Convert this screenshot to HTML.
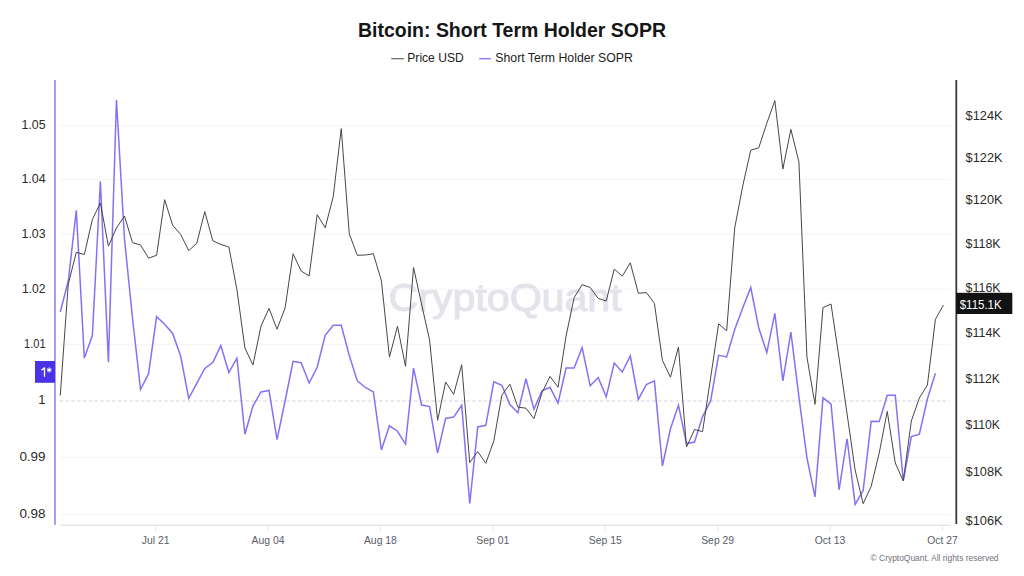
<!DOCTYPE html>
<html><head><meta charset="utf-8"><style>
html,body{margin:0;padding:0;background:#fff;}
svg{display:block;font-family:"Liberation Sans",sans-serif;}
.ax{font-size:13px;fill:#2a2a2a;}
.xl{font-size:10.4px;fill:#5c5c66;}
</style></head><body>
<svg width="1024" height="576" viewBox="0 0 1024 576">
<rect width="1024" height="576" fill="#fff"/>
<text x="512" y="36.6" text-anchor="middle" font-size="20" font-weight="700" fill="#151515" textLength="308" lengthAdjust="spacingAndGlyphs">Bitcoin: Short Term Holder SOPR</text>
<line x1="391.2" y1="58.7" x2="404" y2="58.7" stroke="#666" stroke-width="1.2"/>
<text x="407.3" y="62" font-size="13" fill="#222" textLength="56.4" lengthAdjust="spacingAndGlyphs">Price USD</text>
<line x1="479.2" y1="58.7" x2="491" y2="58.7" stroke="#8f80f8" stroke-width="1.5"/>
<text x="495.3" y="62" font-size="13" fill="#222" textLength="137.5" lengthAdjust="spacingAndGlyphs">Short Term Holder SOPR</text>
<text x="388.6" y="310.5" font-size="39" font-weight="400" fill="#e3e3ea" stroke="#e3e3ea" stroke-width="0.9" textLength="233" lengthAdjust="spacingAndGlyphs">CryptoQuant</text>
<line x1="60" y1="125.69" x2="951" y2="125.69" stroke="#f4f4f5" stroke-width="1"/>
<line x1="60" y1="179.65" x2="951" y2="179.65" stroke="#f4f4f5" stroke-width="1"/>
<line x1="60" y1="234.13" x2="951" y2="234.13" stroke="#f4f4f5" stroke-width="1"/>
<line x1="60" y1="289.14" x2="951" y2="289.14" stroke="#f4f4f5" stroke-width="1"/>
<line x1="60" y1="344.69" x2="951" y2="344.69" stroke="#f4f4f5" stroke-width="1"/>
<line x1="60" y1="457.47" x2="951" y2="457.47" stroke="#f4f4f5" stroke-width="1"/>
<line x1="60" y1="514.71" x2="951" y2="514.71" stroke="#f4f4f5" stroke-width="1"/>

<line x1="59.7" y1="401" x2="949.5" y2="401" stroke="#d3d3da" stroke-width="1" stroke-dasharray="3.4,2.41"/>
<line x1="60" y1="525.3" x2="951" y2="525.3" stroke="#e6e6ec" stroke-width="1.5"/>
<line x1="155.60" y1="525" x2="155.60" y2="531" stroke="#e3e3ea" stroke-width="1"/>
<line x1="268.01" y1="525" x2="268.01" y2="531" stroke="#e3e3ea" stroke-width="1"/>
<line x1="380.42" y1="525" x2="380.42" y2="531" stroke="#e3e3ea" stroke-width="1"/>
<line x1="492.83" y1="525" x2="492.83" y2="531" stroke="#e3e3ea" stroke-width="1"/>
<line x1="605.24" y1="525" x2="605.24" y2="531" stroke="#e3e3ea" stroke-width="1"/>
<line x1="717.65" y1="525" x2="717.65" y2="531" stroke="#e3e3ea" stroke-width="1"/>
<line x1="830.06" y1="525" x2="830.06" y2="531" stroke="#e3e3ea" stroke-width="1"/>
<line x1="942.47" y1="525" x2="942.47" y2="531" stroke="#e3e3ea" stroke-width="1"/>

<line x1="55" y1="80" x2="55" y2="524.8" stroke="#a99bf8" stroke-width="2"/>
<line x1="956.3" y1="80" x2="956.3" y2="524" stroke="#3a3a3a" stroke-width="1.8"/>
<polyline fill="none" stroke="#8373f4" stroke-width="1.5" stroke-linejoin="miter" points="60.25,312.00 68.28,281.00 76.31,210.30 84.34,358.10 92.37,335.60 100.39,181.30 108.42,362.20 116.45,99.90 124.48,239.00 132.51,318.00 140.54,389.50 148.57,373.70 156.60,316.60 164.63,324.30 172.66,333.40 180.69,356.30 188.71,398.30 196.74,383.40 204.77,368.50 212.80,362.50 220.83,345.60 228.86,372.50 236.89,358.10 244.92,434.20 252.95,406.10 260.98,392.00 269.00,390.50 277.03,439.70 285.06,401.00 293.09,361.30 301.12,362.70 309.15,383.00 317.18,367.30 325.21,335.30 333.24,325.20 341.26,325.20 349.29,355.60 357.32,380.90 365.35,387.50 373.38,391.90 381.41,450.00 389.44,425.80 397.47,431.25 405.50,444.10 413.53,368.10 421.56,405.00 429.58,406.60 437.61,453.00 445.64,418.40 453.67,417.10 461.70,405.30 469.73,503.50 477.76,426.90 485.79,425.30 493.82,381.90 501.84,385.30 509.87,404.50 517.90,412.80 525.93,378.75 533.96,409.20 541.99,390.90 550.02,387.30 558.05,403.00 566.08,368.10 574.11,368.10 582.13,347.50 590.16,385.80 598.19,377.50 606.22,396.90 614.25,363.10 622.28,372.00 630.31,355.90 638.34,399.40 646.37,384.50 654.40,380.90 662.42,466.00 670.45,428.75 678.48,405.30 686.51,443.60 694.54,442.00 702.57,416.60 710.60,400.90 718.63,355.30 726.66,356.90 734.69,329.50 742.72,308.00 750.74,287.50 758.77,328.00 766.80,352.60 774.83,313.40 782.86,380.90 790.89,332.20 798.92,397.00 806.95,457.80 814.98,496.90 823.00,397.80 831.03,404.10 839.06,489.80 847.09,438.75 855.12,504.40 863.15,490.60 871.18,421.25 879.21,421.60 887.24,395.30 895.27,395.30 903.29,480.50 911.32,436.60 919.35,434.20 927.38,399.00 935.41,373.30"/>
<polyline fill="none" stroke="#474747" stroke-width="1" stroke-linejoin="miter" points="60.25,395.50 68.28,284.00 76.31,252.30 84.34,254.50 92.37,219.50 100.39,202.90 108.42,246.10 116.45,228.00 124.48,216.00 132.51,242.70 140.54,245.00 148.57,258.10 156.60,255.30 164.63,199.70 172.66,225.20 180.69,234.50 188.71,250.60 196.74,243.40 204.77,211.60 212.80,240.80 220.83,244.40 228.86,247.00 236.89,289.40 244.92,348.00 252.95,365.00 260.98,326.10 269.00,308.40 277.03,329.20 285.06,308.10 293.09,253.75 301.12,271.00 309.15,276.00 317.18,214.70 325.21,227.70 333.24,196.60 341.26,128.60 349.29,233.90 357.32,255.30 365.35,255.00 373.38,253.75 381.41,280.80 389.44,357.20 397.47,326.25 405.50,366.25 413.53,267.50 421.56,304.00 429.58,340.00 437.61,420.30 445.64,382.00 453.67,394.30 461.70,364.70 469.73,462.50 477.76,451.60 485.79,463.30 493.82,440.90 501.84,395.20 509.87,384.20 517.90,407.10 525.93,408.20 533.96,418.70 541.99,392.80 550.02,376.40 558.05,387.30 566.08,336.00 574.11,297.70 582.13,284.70 590.16,287.50 598.19,298.40 606.22,301.00 614.25,269.10 622.28,276.10 630.31,262.80 638.34,293.30 646.37,292.50 654.40,303.40 662.42,360.30 670.45,377.20 678.48,347.00 686.51,447.00 694.54,429.50 702.57,431.60 710.60,378.00 718.63,323.75 726.66,330.80 734.69,228.00 742.72,186.00 750.74,150.20 758.77,147.80 766.80,123.30 774.83,100.60 782.86,169.00 790.89,129.40 798.92,161.90 806.95,357.00 814.98,404.40 823.00,307.60 831.03,304.00 839.06,358.00 847.09,414.00 855.12,470.00 863.15,503.70 871.18,486.30 879.21,453.00 887.24,411.40 895.27,463.00 903.29,481.00 911.32,421.00 919.35,398.00 927.38,385.10 935.41,319.30 943.44,305.10"/>
<text x="45.6" y="129.39" text-anchor="end" class="ax" textLength="24" lengthAdjust="spacingAndGlyphs">1.05</text>
<text x="45.6" y="183.35" text-anchor="end" class="ax" textLength="24.2" lengthAdjust="spacingAndGlyphs">1.04</text>
<text x="45.6" y="237.83" text-anchor="end" class="ax" textLength="24" lengthAdjust="spacingAndGlyphs">1.03</text>
<text x="45.6" y="292.84" text-anchor="end" class="ax" textLength="23.6" lengthAdjust="spacingAndGlyphs">1.02</text>
<text x="45.6" y="348.39" text-anchor="end" class="ax" textLength="21.6" lengthAdjust="spacingAndGlyphs">1.01</text>
<text x="45.6" y="461.17" text-anchor="end" class="ax" textLength="26.2" lengthAdjust="spacingAndGlyphs">0.99</text>
<text x="45.6" y="518.41" text-anchor="end" class="ax" textLength="26.2" lengthAdjust="spacingAndGlyphs">0.98</text>
<text x="45.6" y="404.40" text-anchor="end" class="ax">1</text>

<text x="965.6" y="119.70" class="ax" textLength="37.0" lengthAdjust="spacingAndGlyphs">$124K</text>
<text x="965.6" y="161.68" class="ax" textLength="37.0" lengthAdjust="spacingAndGlyphs">$122K</text>
<text x="965.6" y="204.36" class="ax" textLength="37.0" lengthAdjust="spacingAndGlyphs">$120K</text>
<text x="965.6" y="247.76" class="ax" textLength="35.0" lengthAdjust="spacingAndGlyphs">$118K</text>
<text x="965.6" y="291.90" class="ax" textLength="35.0" lengthAdjust="spacingAndGlyphs">$116K</text>
<text x="965.6" y="336.80" class="ax" textLength="35.0" lengthAdjust="spacingAndGlyphs">$114K</text>
<text x="965.6" y="382.50" class="ax" textLength="34.4" lengthAdjust="spacingAndGlyphs">$112K</text>
<text x="965.6" y="429.03" class="ax" textLength="34.4" lengthAdjust="spacingAndGlyphs">$110K</text>
<text x="965.6" y="476.40" class="ax" textLength="37.0" lengthAdjust="spacingAndGlyphs">$108K</text>
<text x="965.6" y="524.67" class="ax" textLength="37.0" lengthAdjust="spacingAndGlyphs">$106K</text>

<text x="155.60" y="544" text-anchor="middle" class="xl">Jul 21</text>
<text x="268.01" y="544" text-anchor="middle" class="xl">Aug 04</text>
<text x="380.42" y="544" text-anchor="middle" class="xl">Aug 18</text>
<text x="492.83" y="544" text-anchor="middle" class="xl">Sep 01</text>
<text x="605.24" y="544" text-anchor="middle" class="xl">Sep 15</text>
<text x="717.65" y="544" text-anchor="middle" class="xl">Sep 29</text>
<text x="830.06" y="544" text-anchor="middle" class="xl">Oct 13</text>
<text x="942.47" y="544" text-anchor="middle" class="xl">Oct 27</text>

<rect x="35" y="361" width="20" height="21.8" fill="#4a33e6"/>
<path d="M41.4,370.2 L44.5,367.9 L44.5,376.7" fill="none" stroke="#fff" stroke-width="1.35" stroke-linejoin="round"/>
<g stroke="#fff" stroke-width="1.1" stroke-linecap="round"><line x1="49.2" y1="367.9" x2="49.2" y2="371.9"/><line x1="47.47" y1="368.9" x2="50.93" y2="370.9"/><line x1="47.47" y1="370.9" x2="50.93" y2="368.9"/></g>
<rect x="956.2" y="292.8" width="56.1" height="21.2" fill="#121214"/>
<text x="959.7" y="308.5" font-size="13.5" fill="#fff" textLength="42" lengthAdjust="spacingAndGlyphs">$115.1K</text>
<text x="870.5" y="561.4" font-size="9" fill="#727279" textLength="128" lengthAdjust="spacingAndGlyphs">© CryptoQuant. All rights reserved</text>
</svg>
</body></html>
